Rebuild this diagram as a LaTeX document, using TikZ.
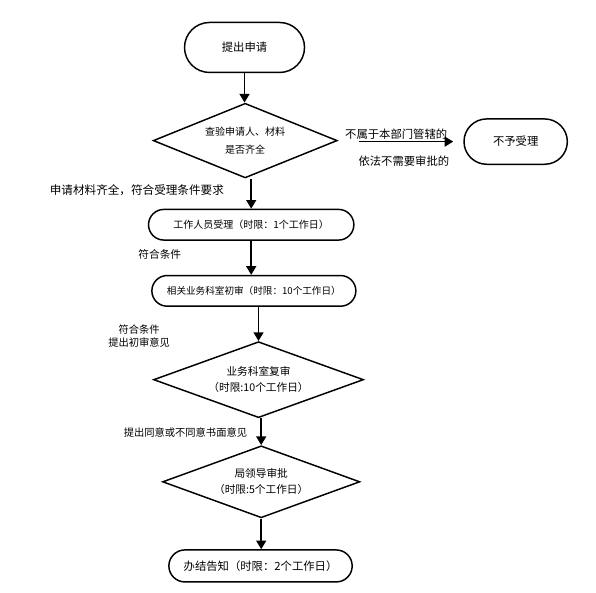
\documentclass[tikz,border=0pt]{standalone}
\usepackage{fontspec}
\setmainfont{Noto Sans CJK SC}
\usetikzlibrary{arrows.meta,positioning,shapes.geometric,shapes.misc}

\begin{document}
\begin{tikzpicture}[>={Triangle[length=6.5pt,width=7.5pt]}, line width=1.1pt, every node/.style={font=\fontsize{7.5}{13}\selectfont}]
\tikzstyle{term}=[rounded rectangle, draw, inner sep=1pt]
\tikzstyle{dia}=[diamond, aspect=2.6, draw, inner sep=0pt, align=center]
\tikzstyle{lbl}=[inner sep=1pt, font=\fontsize{8}{10}\selectfont]
\useasboundingbox (-183.4pt,35.6pt) rectangle (263.6pt,-409.1pt);
\node[term, minimum width=92pt, minimum height=37.5pt, font=\fontsize{8.5}{10}\selectfont] (apply) {提出申请};
\node[dia, minimum width=138pt, minimum height=56pt, below=22pt of apply, xshift=0.5pt] (check) {查验申请人、材料\\是否齐全};
\node[term, minimum width=79.5pt, minimum height=34pt, right=94pt of check, yshift=-0.75pt, font=\fontsize{8.5}{10}\selectfont] (reject) {不予受理};
\node[term, minimum width=156pt, minimum height=23pt, below=22.5pt of check, xshift=4.5pt] (accept) {工作人员受理（时限：1个工作日）};
\node[term, minimum width=155pt, minimum height=23pt, below=25.5pt of accept, xshift=2pt, font=\fontsize{7.2}{10}\selectfont] (first) {相关业务科室初审（时限：10个工作日）};
\node[dia, minimum width=157.5pt, minimum height=57pt, below=25.5pt of first, xshift=3.5pt, font=\fontsize{8}{12}\selectfont] (review) {业务科室复审\\（时限:10个工作日）};
\node[dia, minimum width=148pt, minimum height=54pt, below=20pt of review, xshift=2pt, font=\fontsize{8}{12}\selectfont] (approve) {局领导审批\\（时限:5个工作日）};
\node[term, minimum width=139.5pt, minimum height=24pt, below=23pt of approve, xshift=-0.5pt, font=\fontsize{8.5}{10}\selectfont] (notify) {办结告知（时限：2个工作日）};
% connectors
\draw[->] (apply.south) -- (apply.south |- check.north);
\draw[->] (accept.north |- check.south) -- (accept.north);
\draw[->] (accept.south) -- (accept.south |- first.north);
\draw[->] (review.north |- first.south) -- (review.north);
\draw[->] (approve.north |- review.south) -- (approve.north);
\draw[->] (approve.south) -- (approve.south |- notify.north);
\path (check.east |- reject.west) ++(16pt,0) coordinate (rjA);
\path (reject.west) ++(-7.5pt,0) coordinate (rjB);
\draw[->] (rjA) -- (rjB);
% labels
\node[lbl, anchor=south east, font=\fontsize{8.5}{10}\selectfont] at ([xshift=-3pt]rjB) {不属于本部门管辖的};
\node[lbl, anchor=north east, font=\fontsize{8.5}{10}\selectfont] at ([xshift=-1.5pt,yshift=-9.3pt]rjB) {依法不需要审批的};
\node[lbl, anchor=west, font=\fontsize{8.7}{10}\selectfont] at ([xshift=-75pt,yshift=26pt]accept.west) {申请材料齐全，符合受理条件要求};
\node[lbl] at ([xshift=9pt,yshift=-22pt]accept.west) {符合条件};
\node[lbl, align=center, font=\fontsize{7.7}{10}\selectfont] at ([xshift=-9pt,yshift=-34pt]first.west) {符合条件\\提出初审意见};
\node[lbl, anchor=west, font=\fontsize{7.7}{10}\selectfont] at ([xshift=-23.25pt,yshift=-39.75pt]review.west) {提出同意或不同意书面意见};
\end{tikzpicture}
\end{document}
